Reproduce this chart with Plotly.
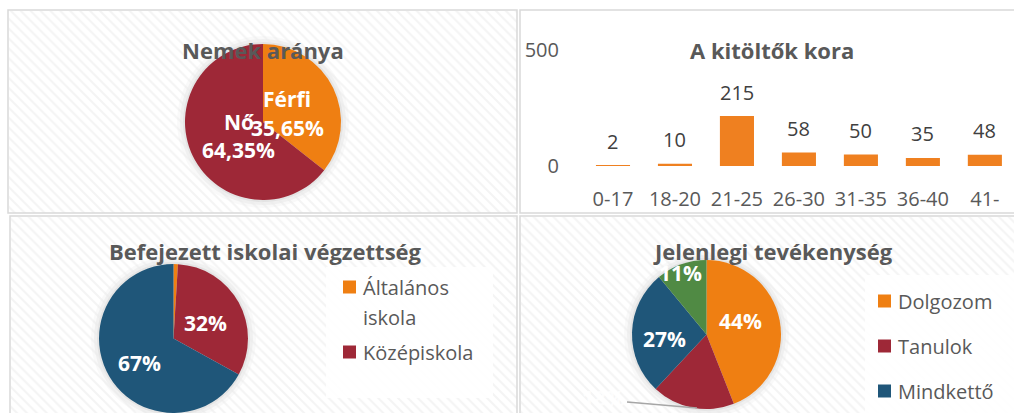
import plotly.graph_objects as go

W, H = 1014, 413

# --- data ---
gender_labels = ["Férfi", "Nő"]
gender_counts = [149, 269]

age_groups = ["0-17", "18-20", "21-25", "26-30", "31-35", "36-40", "41-"]
age_counts = [2, 10, 215, 58, 50, 35, 48]

school_labels = ["Általános iskola", "Középiskola", "Felsőoktatás"]
school_counts = [4, 134, 280]

activity_labels = ["Dolgozom", "Tanulok", "Mindkettő", "Egyik sem"]
activity_counts = [184, 75, 113, 46]

ORANGE, RED, BLUE, GREEN = "#EF7F12", "#9E2837", "#1F5679", "#508A44"
TITLE_C, TEXT_C, VAL_C = "#595959", "#595959", "#404040"
FONT = "Open Sans"


def px(x):
    return x / W


def py(y):
    return 1 - y / H


def pct(vals):
    tot = sum(vals)
    return [v / tot * 100 for v in vals]


fig = go.Figure()

# hatched panel backgrounds (decoration only)
for x0, y0, x1, y1 in [(9, 11, 517, 213), (11, 217, 517, 420), (521, 217, 1020, 420)]:
    fig.add_trace(go.Scatter(
        x=[x0, x1, x1, x0, x0], y=[y0, y0, y1, y1, y0], xaxis="x2", yaxis="y2",
        mode="lines", line=dict(width=0), fill="toself", fillcolor="rgba(0,0,0,0)",
        fillpattern=dict(shape="\\", fgcolor="#E9E9E9", bgcolor="rgba(0,0,0,0)", size=7, solidity=0.3),
        hoverinfo="skip", showlegend=False))

# age bar chart
fig.add_trace(go.Bar(x=age_groups, y=age_counts, marker=dict(color="#EF8020", line=dict(width=0)),
                     width=0.55, showlegend=False, hoverinfo="x+y"))

# pies
pie_specs = [
    (gender_labels, gender_counts, [ORANGE, RED], (263, 122, 78)),
    (school_labels, school_counts, [ORANGE, RED, BLUE], (173.5, 338.5, 74.5)),
    (activity_labels, activity_counts, [ORANGE, RED, BLUE, GREEN], (706.5, 334.5, 74.5)),
]
shapes = []
for labels, vals, cols, (cx, cy, r) in pie_specs:
    fig.add_trace(go.Pie(labels=labels, values=vals, sort=False, direction="clockwise", rotation=0,
                         marker=dict(colors=cols), textinfo="none", hoverinfo="label+percent",
                         showlegend=False,
                         domain=dict(x=[px(cx - r), px(cx + r)], y=[max(0, py(cy + r)), py(cy - r)])))
    # soft shadow
    for k, a in [(8, 0.025), (5, 0.035), (2, 0.05)]:
        shapes.append(dict(type="circle", xref="paper", yref="paper", layer="below",
                           x0=px(cx - r - k), x1=px(cx + r + k), y0=py(cy + r + k), y1=py(cy - r - k),
                           fillcolor=f"rgba(0,0,0,{a})", line=dict(width=0)))

# panel borders
for x0, y0, x1, y1 in [(8, 10, 517, 213), (520, 10, 1030, 213), (10, 216, 517, 430), (520, 216, 1030, 430)]:
    shapes.append(dict(type="rect", xref="paper", yref="paper", layer="above",
                       x0=px(x0), x1=px(x1), y0=py(y1), y1=py(y0),
                       line=dict(color="#D9D9D9", width=1.5), fillcolor="rgba(0,0,0,0)"))

# legend boxes
for x0, y0, x1, y1 in [(326, 267, 493, 398), (865, 275, 1030, 430)]:
    shapes.append(dict(type="rect", xref="paper", yref="paper", layer="above",
                       x0=px(x0), x1=px(x1), y0=py(y1), y1=py(y0),
                       line=dict(width=0), fillcolor="rgba(255,255,255,0.85)"))

ann = []


def text(x, y, s, size, color, bold=False, xanchor="center", opacity=1):
    ann.append(dict(x=px(x), y=py(y), xref="paper", yref="paper", text=f"<b>{s}</b>" if bold else s,
                    showarrow=False, xanchor=xanchor, yanchor="middle", opacity=opacity,
                    font=dict(family=FONT, size=size, color=color)))


# titles
text(262.5, 50, "Nemek aránya", 22, TITLE_C, True)
text(772, 50, "A kitöltők kora", 22, TITLE_C, True)
text(265, 251, "Befejezett iskolai végzettség", 22, TITLE_C, True)
text(773, 251, "Jelenlegi tevékenység", 22, TITLE_C, True)

# gender labels
gp = pct(gender_counts)
g_fmt = [f"{p:.2f}%".replace(".", ",") for p in gp]
text(287, 99, gender_labels[0], 21, "white", True)
text(287, 128, g_fmt[0], 21, "white", True)
text(239, 122, gender_labels[1], 21, "white", True)
text(238.5, 150, g_fmt[1], 21, "white", True)

# education labels
sp = pct(school_counts)
text(205.5, 323, f"{sp[1]:.0f}%", 21, "white", True)
text(139, 363, f"{sp[2]:.0f}%", 21, "white", True)

# activity labels
ap = pct(activity_counts)
text(740, 321, f"{ap[0]:.0f}%", 21, "white", True)
text(664, 339, f"{ap[2]:.0f}%", 21, "white", True)
text(680, 273, f"{ap[3]:.0f}%", 21, "white", True)
text(603, 398, f"{ap[1]:.0f}%", 21, "white", True, opacity=0.8)
shapes.append(dict(type="line", xref="paper", yref="paper", layer="above",
                   x0=px(627), y0=py(402), x1=px(697), y1=py(408), line=dict(color="#A6A6A6", width=1.5)))

# bar value labels
for g, v in zip(age_groups, age_counts):
    ann.append(dict(x=g, y=v, xref="x", yref="y", text=str(v), showarrow=False, yshift=24,
                    yanchor="middle", font=dict(family=FONT, size=20, color=VAL_C)))

# manual legends (only the entries visible in the panel)
leg_school = [("Általános", 287, ORANGE), ("iskola", 317, None), (school_labels[1], 352, RED)]
for s, y, c in leg_school:
    text(361, y, s, 20, TEXT_C, xanchor="left")
    if c:
        shapes.append(dict(type="rect", xref="paper", yref="paper", layer="above",
                           x0=px(343), x1=px(356), y0=py(y + 6.5), y1=py(y - 6.5),
                           fillcolor=c, line=dict(width=0)))
act_cols = [ORANGE, RED, BLUE, GREEN]
for i, lab in enumerate(activity_labels):
    y = 301 + 45 * i
    if y > H - 10:
        continue
    text(896, y, lab, 20, TEXT_C, xanchor="left")
    shapes.append(dict(type="rect", xref="paper", yref="paper", layer="above",
                       x0=px(878), x1=px(891), y0=py(y + 6.5), y1=py(y - 6.5),
                       fillcolor=act_cols[i], line=dict(width=0)))

fig.update_layout(
    width=W, height=H, margin=dict(l=0, r=0, t=0, b=0, pad=0, autoexpand=False),
    paper_bgcolor="white", plot_bgcolor="rgba(0,0,0,0)",
    font=dict(family=FONT, color=TEXT_C),
    xaxis=dict(domain=[px(582), 1], range=[-0.5, 6.47], type="category", showgrid=False, zeroline=False,
               automargin=False,
               ticks="outside", ticklen=15, tickcolor="rgba(0,0,0,0)", tickfont=dict(size=20, color=TEXT_C)),
    yaxis=dict(domain=[py(166), py(50)], range=[0, 500], tickvals=[0, 500], showgrid=True,
               automargin=False,
               gridcolor="#D9D9D9", gridwidth=1.5, zeroline=False, ticks="outside", ticklen=18,
               tickcolor="rgba(0,0,0,0)", tickfont=dict(size=20, color=TEXT_C)),
    xaxis2=dict(domain=[0, 1], range=[0, W], visible=False, fixedrange=True),
    yaxis2=dict(domain=[0, 1], range=[H, 0], visible=False, fixedrange=True),
    shapes=shapes, annotations=ann, showlegend=False,
)

# page body has a default 8px margin; drop it so the figure sits at the window origin
fig.write_html("out.html", config={"displayModeBar": False},
               post_script="document.body.style.margin='0';document.body.style.overflow='hidden';")
